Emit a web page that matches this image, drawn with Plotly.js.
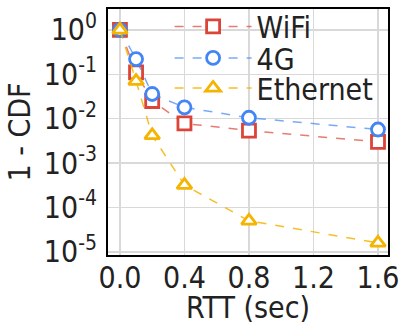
<!DOCTYPE html>
<html><head><meta charset="utf-8">
<script src="https://cdn.plot.ly/plotly-3.0.1.min.js"></script>
<style>html,body{margin:0;padding:0;background:#fff}#c{width:400px;height:325px}</style>
</head><body><div id="c"></div>
<script>
const rtt = [0.0, 0.1, 0.2, 0.4, 0.8, 1.6];
const wifi = [1.0, 0.11, 0.025, 0.0078, 0.0054, 0.003];
const g4 = [1.0, 0.22, 0.036, 0.018, 0.0105, 0.0057];
const ethernet = [1.0, 0.07, 0.0042, 0.00032, 0.00005, 0.000016];
const xTicks = [0.0, 0.4, 0.8, 1.2, 1.6];
const xTickText = ['0.0', '0.4', '0.8', '1.2', '1.6'];
const yTicks = [1, 0.1, 0.01, 0.001, 0.0001, 0.00001];
const yTickText = ['10<sup>0</sup>', '10<sup>-1</sup>', '10<sup>-2</sup>', '10<sup>-3</sup>', '10<sup>-4</sup>', '10<sup>-5</sup>'];

const FONT = '"DejaVu Sans Condensed", "DejaVu Sans", sans-serif';
const FS = 30;

function tr(name, y, col, lineCol, sym, lg) {
  return {x: rtt, y: y, name: name, type: 'scatter', mode: 'lines+markers', legend: lg,
    line: {color: lineCol, width: 1.5, dash: 'dash'},
    marker: {symbol: sym, size: 13, color: 'white', line: {color: col, width: 2.8}}};
}
const data = [
  tr('WiFi', wifi, '#db4437', 'rgba(219,68,55,0.7)', 'square', 'legend'),
  tr('4G', g4, '#4285f4', 'rgba(66,133,244,0.7)', 'circle', 'legend2'),
  tr('Ethernet', ethernet, '#f4b400', 'rgba(244,180,0,0.85)', 'triangle-up', 'legend3')
];
function lg(y) {
  return {x: 0.22, y: y, xanchor: 'left', yanchor: 'middle', bgcolor: 'rgba(0,0,0,0)',
    font: {family: FONT, size: FS, color: '#222'}, itemwidth: 77};
}
const layout = {
  width: 400, height: 325,
  margin: {l: 108, r: 12, t: 9, b: 70, autoexpand: false},
  paper_bgcolor: '#fff', plot_bgcolor: '#fff',
  font: {family: FONT, size: FS, color: '#222'},
  showlegend: true,
  legend: lg(0.929), legend2: lg(0.801), legend3: lg(0.679),
  xaxis: {range: [-0.074, 1.662], tickvals: xTicks, ticktext: xTickText,
    showgrid: true, gridcolor: '#d9d9d9', gridwidth: 1.5, zeroline: false,
    showline: true, mirror: true, linecolor: '#000', linewidth: 2, ticks: '',
    ticklabelstandoff: -5,
    title: {text: 'RTT (sec)', standoff: 16, font: {family: FONT, size: FS}}},
  yaxis: {type: 'log', range: [-5.07, 0.47], tickvals: yTicks, ticktext: yTickText,
    showgrid: true, gridcolor: '#d9d9d9', gridwidth: 1.5, zeroline: false,
    showline: true, mirror: true, linecolor: '#000', linewidth: 2, ticks: '',
    ticklabelstandoff: 3,
    title: {text: '1 - CDF', standoff: 4, font: {family: FONT, size: FS}}}
};
Plotly.newPlot('c', data, layout, {displayModeBar: false, staticPlot: true});
</script></body></html>
